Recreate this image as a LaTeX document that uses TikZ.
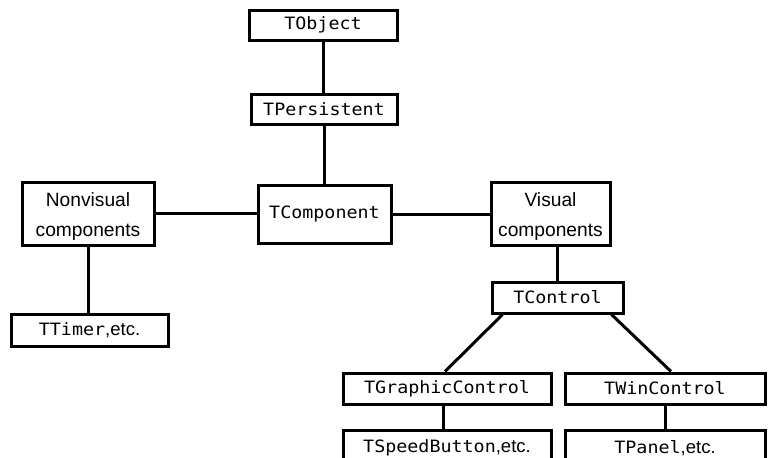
\documentclass[tikz,border=0pt]{standalone}
\usepackage{fontspec}
\setmainfont{Liberation Sans}
\newfontfamily\codefont[FakeStretch=1.08]{DejaVu Sans Mono}
\newcommand{\cls}[1]{{\codefont\fontsize{17}{20}\selectfont #1}}
% raises the first line of two-line labels so the block sits a little lower
\newcommand{\toprule}{\rule{0pt}{20pt}}
\begin{document}
\begin{tikzpicture}[x=1pt,y=-1pt,
  box/.style={draw, line width=3pt, inner sep=0pt, align=center,
    font=\fontsize{19.2}{30}\selectfont},
  link/.style={line width=3pt}]
\useasboundingbox (0,0) rectangle (772,458);
% class boxes
\node[box, minimum width=148pt, minimum height=30pt] (obj)   at (323,25)    {\cls{TObject}};
\node[box, minimum width=146pt, minimum height=30pt] (pers)  at (324,109)   {\cls{TPersistent}};
\node[box, minimum width=133pt, minimum height=58pt] (comp)  at (324.5,214) {\cls{TComponent}};
\node[box, minimum width=132pt, minimum height=63pt] (nonv)  at (88,213.5)  {\toprule Nonvisual\\components};
\node[box, minimum width=119pt, minimum height=63pt] (vis)   at (550.5,213.5) {\toprule Visual\\components};
\node[box, minimum width=157pt, minimum height=32pt] (timer) at (89.5,330)  {\cls{TTimer}{\fontsize{18.5}{20}\selectfont,etc.}};
\node[box, minimum width=131pt, minimum height=31pt] (ctrl)  at (557.5,297.5) {\cls{TControl}};
\node[box, minimum width=208pt, minimum height=31pt] (gc)    at (447,388.5) {\cls{TGraphicControl}};
\node[box, minimum width=200pt, minimum height=31pt] (wc)    at (665,388.5) {\cls{TWinControl}};
\node[box, minimum width=208pt, minimum height=36pt] (sb)    at (447,448)   {\cls{TSpeedButton}{\fontsize{18.5}{20}\selectfont,etc.}};
\node[box, minimum width=200pt, minimum height=36pt] (pan)   at (665,448)   {\cls{TPanel}{\fontsize{18.5}{20}\selectfont,etc.}};
% inheritance links
\draw[link] (obj.south) -- (obj.south |- pers.north);
\draw[link] (pers.south) -- (pers.south |- comp.north);
\draw[link] (nonv.east) -- (nonv.east -| comp.west);
\draw[link] (comp.east) -- (comp.east -| vis.west);
\draw[link] (nonv.south) -- (nonv.south |- timer.north);
\draw[link] (ctrl.north) -- (ctrl.north |- vis.south);
\draw[link] ([xshift=12pt]ctrl.south west) -- ([xshift=-2pt]gc.north);
\draw[link] ([xshift=-13pt]ctrl.south east) -- ([xshift=6pt]wc.north);
\draw[link] ([xshift=-4pt]gc.south) -- ([xshift=-4pt]sb.north);
\draw[link] (wc.south) -- (pan.north);
\end{tikzpicture}
\end{document}
